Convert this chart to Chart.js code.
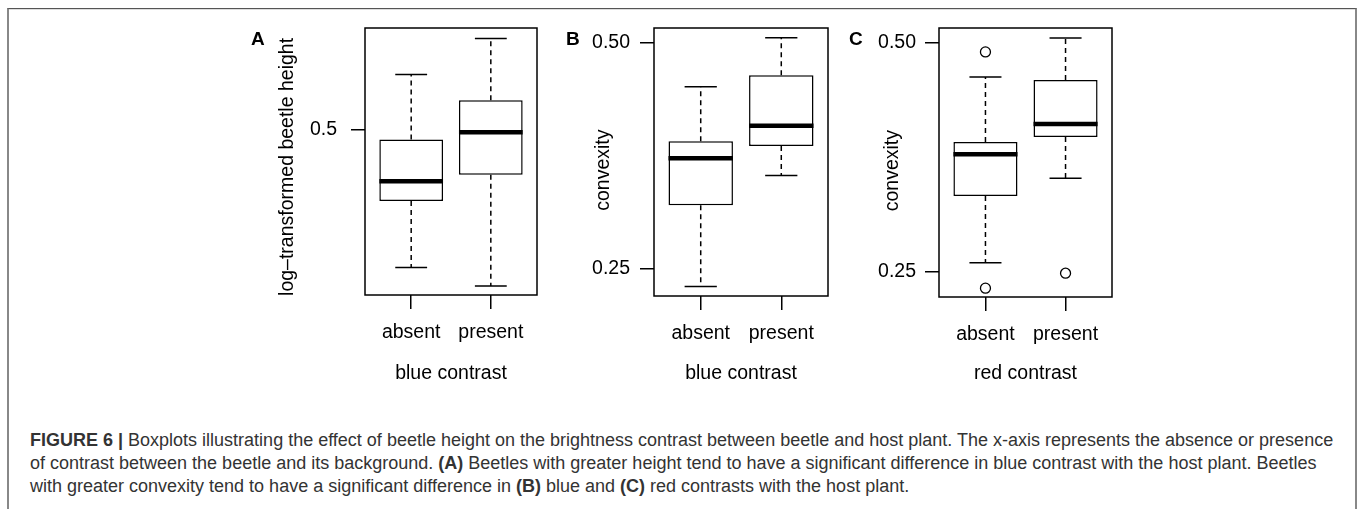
<!DOCTYPE html>
<html>
<head>
<meta charset="utf-8">
<script src="https://cdn.jsdelivr.net/npm/chart.js@4.4.1/dist/chart.umd.min.js"></script>
<style>
  body { margin: 0; width: 1358px; height: 509px; background: #fff; overflow: hidden; position: relative;
         font-family: "Liberation Sans", Arial, sans-serif; }
  .frame { position: absolute; left: 7px; top: 8px; width: 1346px; height: 540px;
           border-top: 1px solid #555; border-left: 2px solid #888; border-right: 2px solid #888; }
  .frame:after { content: ""; position: absolute; left: 0; right: 0; top: 0; height: 1px; background: #ddd; }
  canvas { position: absolute; top: 10px; }
  .letter { position: absolute; top: 29px; font-weight: bold; font-size: 19px; line-height: 19px; color: #000; }
  .caption { position: absolute; left: 30px; font-size: 18px; line-height: 23px; color: #333; white-space: nowrap; }
</style>
</head>
<body>
<div class="frame"></div>
<canvas id="chartA" width="330" height="390" style="left:220px"></canvas>
<canvas id="chartB" width="300" height="390" style="left:540px"></canvas>
<canvas id="chartC" width="300" height="390" style="left:825px"></canvas>
<div class="letter" style="left:251px">A</div>
<div class="letter" style="left:566px">B</div>
<div class="letter" style="left:849px">C</div>
<div class="caption" style="top:429px"><b>FIGURE 6 |</b> Boxplots illustrating the effect of beetle height on the brightness contrast between beetle and host plant. The x-axis represents the absence or presence</div>
<div class="caption" style="top:452px">of contrast between the beetle and its background. <b>(A)</b> Beetles with greater height tend to have a significant difference in blue contrast with the host plant. Beetles</div>
<div class="caption" style="top:475px">with greater convexity tend to have a significant difference in <b>(B)</b> blue and <b>(C)</b> red contrasts with the host plant.</div>
<script>
const groups = ['absent', 'present'];

// five-number summaries per group: [lower whisker, Q1, median, Q3, upper whisker]
const heightBlue = [[0.341, 0.410, 0.433, 0.486, 0.582], [0.324, 0.441, 0.496, 0.542, 0.643]];
const convexBlue = [[0.237, 0.304, 0.351, 0.370, 0.437], [0.333, 0.3645, 0.388, 0.453, 0.508]];
const convexRed = [[0.257, 0.3146, 0.357, 0.3705, 0.451], [0.332, 0.376, 0.391, 0.447, 0.5076]];
const convexRedOutliers = [[0.4865, 0.238], [0.249]];

const heightTicks = [0.5];
const heightTickLabels = ['0.5'];
const convexTicks = [0.25, 0.5];
const convexTickLabels = ['0.25', '0.50'];

const font = { family: '"Liberation Sans", Arial, sans-serif', size: 19.5 };

// whiskers, caps, medians and the frame, all from the chart's own scales
const boxPlugin = {
  id: 'boxes',
  afterDatasetsDraw(chart, args, opts) {
    const { ctx, chartArea: a, scales: { y } } = chart;
    const bars = chart.getDatasetMeta(0).data;
    ctx.save();
    ctx.strokeStyle = '#000';
    opts.stats.forEach((s, i) => {
      const cx = bars[i].x;
      const half = bars[i].width / 2;
      const cap = half / 2;
      const [lo, q1, med, q3, hi] = s.map(v => y.getPixelForValue(v));
      ctx.lineWidth = 1.5;
      ctx.setLineDash([5, 4]);
      ctx.beginPath();
      ctx.moveTo(cx, q3); ctx.lineTo(cx, hi);
      ctx.moveTo(cx, q1); ctx.lineTo(cx, lo);
      ctx.stroke();
      ctx.setLineDash([]);
      ctx.beginPath();
      ctx.moveTo(cx - cap, hi); ctx.lineTo(cx + cap, hi);
      ctx.moveTo(cx - cap, lo); ctx.lineTo(cx + cap, lo);
      ctx.stroke();
      ctx.lineWidth = 4.5;
      ctx.beginPath();
      ctx.moveTo(cx - half, med); ctx.lineTo(cx + half, med);
      ctx.stroke();
    });
    ctx.lineWidth = 1.5;
    ctx.strokeRect(a.left, a.top, a.right - a.left, a.bottom - a.top);
    ctx.restore();
  }
};

function boxChart(id, cfg) {
  const datasets = [{
    type: 'bar',
    data: cfg.stats.map((s, i) => ({ x: i + 1, y: [s[1], s[3]] })),
    backgroundColor: '#fff',
    borderColor: '#000',
    borderWidth: 1.5,
    borderSkipped: false,
    barPercentage: 0.8,
    categoryPercentage: 1
  }];
  if (cfg.outliers) {
    const pts = [];
    cfg.outliers.forEach((list, i) => list.forEach(v => pts.push({ x: i + 1, y: v })));
    datasets.push({
      type: 'scatter',
      data: pts,
      pointStyle: 'circle',
      pointRadius: 5,
      pointBackgroundColor: '#fff',
      pointBorderColor: '#000',
      pointBorderWidth: 1.3
    });
  }
  return new Chart(document.getElementById(id), {
    type: 'bar',
    data: { datasets },
    plugins: [boxPlugin],
    options: {
      responsive: false,
      animation: false,
      events: [],
      devicePixelRatio: 1,
      layout: { padding: { left: 0, top: 18, right: cfg.padRight, bottom: 0 } },
      plugins: {
        legend: { display: false },
        tooltip: { enabled: false },
        boxes: { stats: cfg.stats }
      },
      scales: {
        x: {
          type: 'linear',
          min: 0.42,
          max: 2.58,
          offset: false,
          afterBuildTicks: ax => { ax.ticks = groups.map((g, i) => ({ value: i + 1 })); },
          afterFit: ax => { ax.height = cfg.xHeight; ax.paddingLeft = 0; ax.paddingRight = 0; },
          ticks: { callback: v => groups[v - 1], color: '#000', font, padding: 12, maxRotation: 0, autoSkip: false },
          grid: { offset: false, drawOnChartArea: false, tickLength: 14, color: '#000', lineWidth: 1.5 },
          border: { display: false },
          title: { display: true, text: cfg.xTitle, color: '#000', font, padding: { top: 0, bottom: 15 } }
        },
        y: {
          type: 'logarithmic',
          min: cfg.yMin,
          max: cfg.yMax,
          afterBuildTicks: ax => { ax.ticks = cfg.ticks.map(v => ({ value: v })); },
          afterFit: ax => { ax.width = cfg.yWidth; ax.paddingTop = 0; ax.paddingBottom = 0; },
          ticks: { callback: (v, i) => cfg.tickLabels[i], color: '#000', font, padding: cfg.tickPad },
          grid: { drawOnChartArea: false, tickLength: 14, color: '#000', lineWidth: 1.5 },
          border: { display: false },
          title: { display: true, text: cfg.yTitle, color: '#000', font, padding: { top: cfg.titlePad, bottom: 0 } }
        }
      }
    }
  });
}

boxChart('chartA', {
  stats: heightBlue, yMin: 0.316, yMax: 0.662, ticks: heightTicks, tickLabels: heightTickLabels,
  yTitle: 'log\u2013transformed beetle height  ', xTitle: 'blue contrast',
  yWidth: 145, xHeight: 105, padRight: 13, titlePad: 56, tickPad: 14
});
boxChart('chartB', {
  stats: convexBlue, yMin: 0.2302, yMax: 0.5234, ticks: convexTicks, tickLabels: convexTickLabels,
  yTitle: 'convexity   ', xTitle: 'blue contrast',
  yWidth: 114, xHeight: 104, padRight: 12, titlePad: 52, tickPad: 10
});
boxChart('chartC', {
  stats: convexRed, outliers: convexRedOutliers, yMin: 0.2317, yMax: 0.523, ticks: convexTicks, tickLabels: convexTickLabels,
  yTitle: 'convexity   ', xTitle: 'red contrast',
  yWidth: 114, xHeight: 103, padRight: 13, titlePad: 56, tickPad: 9
});
</script>
</body>
</html>
